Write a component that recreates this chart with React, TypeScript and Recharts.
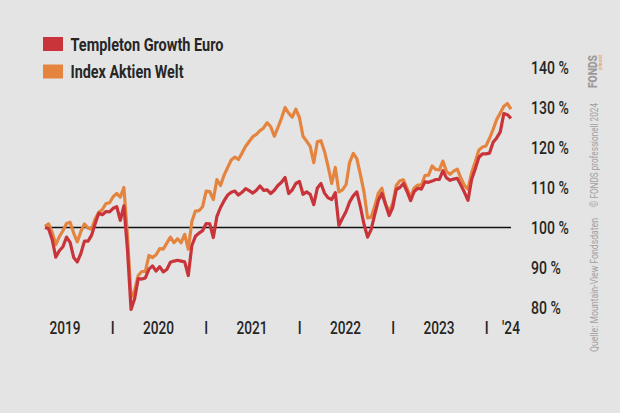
import { Line, LineChart, ReferenceLine, XAxis, YAxis } from "recharts";

const RED = "#c8343a";
const ORANGE = "#e5843f";
const INK = "#262626";
const FONT = "Roboto, 'DejaVu Sans', sans-serif";
const SQUEEZE = 0.74; // the print font is a narrow one

// fortnightly closes, first one on 12 Apr 2019
const START_DATE = "2019-04-12";
const STEP_DAYS = 14;

const templetonValues = [
  100, 99.7, 97, 92.6, 94.2, 95.2, 97.6, 96.3, 92.5, 91.4,
  93.5, 96.6, 96.6, 98.1, 101, 103.6, 103.2, 104, 103.9, 104.8,
  105.2, 101.8, 105.4, 94.5, 79.5, 82.2, 87.2, 87.1, 87.4, 89.6,
  90.4, 89.1, 90.2, 88.9, 89.5, 91.3, 91.6, 91.8, 91.6, 91.4,
  88.0, 95.5, 97.8, 98.6, 99.2, 101, 100.9, 97.5, 102.8, 105,
  106.7, 108.1, 108.8, 109.1, 108.1, 108.8, 109.7, 109.2, 108.6, 109.3,
  110.4, 109.3, 109.4, 108.5, 109.3, 110.5, 111.3, 112.5, 108.5, 109.4,
  111, 111.5, 108.3, 108.9, 108.3, 105.7, 109.9, 111, 108.6, 107.4,
  107, 108.7, 100.5, 102.3, 104, 106.4, 107.9, 108.9, 105.2, 100.8,
  97.6, 99.5, 103.3, 106.8, 108.5, 105.8, 103, 105, 109.5, 110,
  111, 109, 106.7, 109, 109.8, 109.6, 111.4, 111.3, 111.6, 112,
  112, 114.2, 112.4, 111.8, 112.1, 112.3, 110.6, 108.8, 106.8, 112,
  114.6, 117.5, 118.4, 118.4, 118.6, 121.3, 122.4, 123.9, 128.5, 128.2, 127.3,
];

const indexValues = [
  100.3, 100.9, 98.8, 95.7, 97.7, 99.2, 101, 101.3, 98.6, 96.4,
  99, 100.9, 99.8, 99.6, 102.2, 103.8, 104.5, 106, 106.2, 107.7,
  108.5, 107.6, 110, 98, 82.5, 84.2, 88, 89, 89, 93,
  92.5, 93.2, 94.7, 94.6, 96.1, 97.6, 96.2, 97.2, 96.2, 98.3,
  94.6, 101.5, 104.1, 104.2, 105.2, 109.1, 109, 107, 112, 110.5,
  113.1, 115, 116.9, 117.6, 117, 118.6, 120.3, 121.5, 122.7, 123.3,
  124.2, 124.9, 126.2, 125.2, 122.8, 125, 127.3, 130, 128.6, 127.6,
  129.6, 127.5, 122.8, 121.6, 120.3, 116.2, 121.5, 121.7, 119, 115.2,
  111, 115, 108.9, 109.4, 110.7, 116.3, 118.5, 117.2, 113.2, 108.9,
  102.4, 102.6, 105.3, 108.6, 109.8, 105.8, 103.9, 106, 110.5, 111.7,
  111.9, 109.8, 107.6, 109.9, 110.6, 110.6, 113, 113.1, 115.4, 114.5,
  114.4, 116.6, 114, 113.3, 114.1, 114.6, 112.4, 110.5, 109.6, 113.7,
  116.4, 119.3, 120.1, 120.4, 122.3, 124.5, 127, 128.6, 130.3, 131, 129.6,
];

const yearLabels = [2019, 2020, 2021, 2022, 2023];
const yearBreaks = [2020, 2021, 2022, 2023, 2024];
const yTicks = [80, 90, 100, 110, 120, 130, 140];

function toDecimalYear(d: Date) {
  const y = d.getUTCFullYear();
  const a = Date.UTC(y, 0, 1);
  const b = Date.UTC(y + 1, 0, 1);
  return y + (d.getTime() - a) / (b - a);
}

const startMs = new Date(START_DATE + "T00:00:00Z").getTime();
const data = templetonValues.map((v, i) => ({
  t: toDecimalYear(new Date(startMs + i * STEP_DAYS * 86400000)),
  templeton: v,
  index: indexValues[i],
}));
const tFirst = data[0].t;
const tLast = data[data.length - 1].t;

const xTicks = [...yearLabels.map((y) => y + 0.49), ...yearBreaks, tLast].sort((a, b) => a - b);

function XTick(props: any) {
  const { x, y, payload } = props;
  const v = payload.value as number;
  let label: string;
  if (v === tLast) label = "'24";
  else if (Number.isInteger(v)) label = "I";
  else label = String(Math.floor(v));
  return (
    <text
      transform={`translate(${x},${y}) scale(${SQUEEZE},1)`}
      dy="0.35em"
      textAnchor="middle"
      fill={INK}
      fontSize={18.5}
      fontWeight={500}
      fontFamily={FONT}
    >
      {label}
    </text>
  );
}

function YTick(props: any) {
  const { x, y, payload } = props;
  return (
    <text
      transform={`translate(${x},${y}) scale(${SQUEEZE},1)`}
      dy="0.35em"
      textAnchor="start"
      fill={INK}
      fontSize={19}
      fontWeight={500}
      fontFamily={FONT}
    >
      {`${payload.value} %`}
    </text>
  );
}

const legendItems = [
  { name: "Templeton Growth Euro", color: RED, width: 153 },
  { name: "Index Aktien Welt", color: ORANGE, width: 113 },
];

export default function App() {
  return (
    <div style={{ position: "absolute", left: 0, top: 0, width: 620, height: 413, background: "#e4e4e4", overflow: "hidden" }}>
      <LineChart width={620} height={413} data={data} margin={{ top: 67.5, right: 49, left: 45, bottom: 55.5 }}>
        <XAxis
          dataKey="t"
          type="number"
          domain={[tFirst, tLast]}
          ticks={xTicks}
          interval={0}
          axisLine={false}
          tickLine={false}
          tickSize={0}
          tickMargin={0}
          height={30}
          tick={<XTick />}
        />
        <YAxis
          orientation="right"
          domain={[75, 140]}
          ticks={yTicks}
          interval={0}
          axisLine={false}
          tickLine={false}
          tickSize={0}
          tickMargin={20}
          width={60}
          tick={<YTick />}
        />
        <ReferenceLine y={100} stroke="#111111" strokeWidth={1.6} />
        <Line dataKey="index" stroke={ORANGE} strokeWidth={3.2} dot={false} isAnimationActive={false} strokeLinejoin="round" />
        <Line dataKey="templeton" stroke={RED} strokeWidth={3.2} dot={false} isAnimationActive={false} strokeLinejoin="round" />
      </LineChart>

      <svg width={620} height={413} style={{ position: "absolute", left: 0, top: 0, pointerEvents: "none" }}>
        {legendItems.map((item, i) => (
          <g key={item.name}>
            <rect x={43} y={37 + i * 27.5} width={20} height={14} fill={item.color} />
            <text
              x={70.5}
              y={51 + i * 27.3}
              fontSize={18.5}
              fontWeight={700}
              fill={INK}
              fontFamily={FONT}
              textLength={item.width}
              lengthAdjust="spacingAndGlyphs"
            >
              {item.name}
            </text>
          </g>
        ))}

        <text x={598} y={352} transform="rotate(-90 598 352)" fontSize={10.5} fill="#a0a0a0" fontFamily={FONT} textLength={134} lengthAdjust="spacingAndGlyphs">
          Quelle: Mountain-View Fondsdaten
        </text>
        <text x={598} y={207} transform="rotate(-90 598 207)" fontSize={10.5} fill="#a0a0a0" fontFamily={FONT} textLength={104} lengthAdjust="spacingAndGlyphs">
          © FONDS professionell 2024
        </text>
        <text x={597} y={88} transform="rotate(-90 597 88)" fontSize={12.5} fontWeight={900} fill="#9c9c9c" fontFamily={FONT} textLength={33} lengthAdjust="spacingAndGlyphs">
          FONDS
        </text>
        <text x={602} y={70} transform="rotate(-90 602 70)" fontSize={4.5} fill={ORANGE} fontFamily={FONT} textLength={15} lengthAdjust="spacingAndGlyphs">
          professionell
        </text>
      </svg>
    </div>
  );
}
